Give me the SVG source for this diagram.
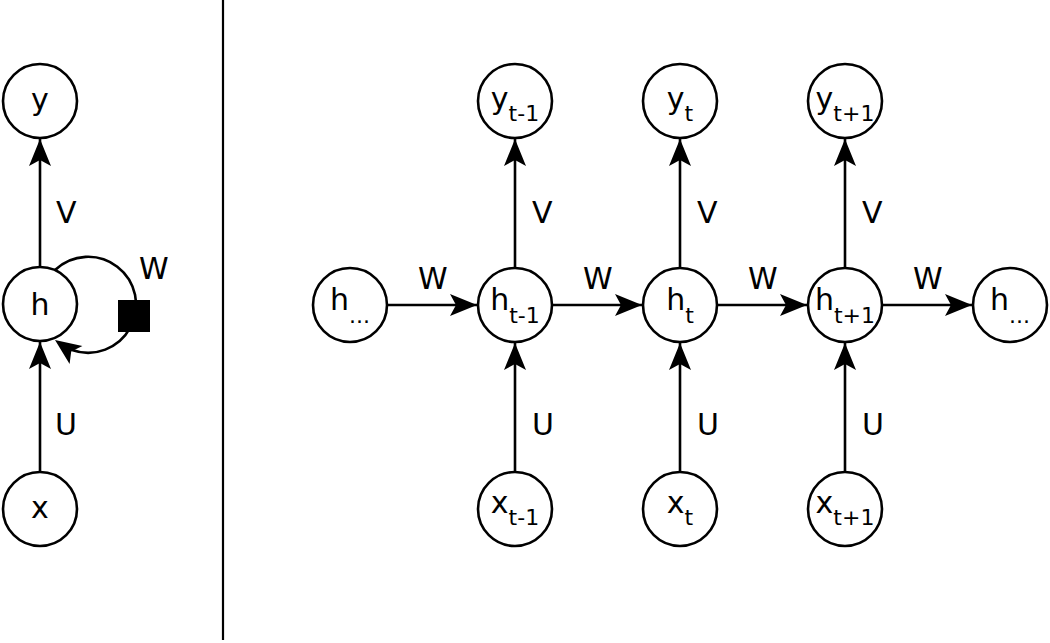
<svg xmlns="http://www.w3.org/2000/svg" width="1050" height="643" viewBox="0 0 1050 643">
<style>
.n{fill:#fff;stroke:#000;stroke-width:2.6}
.c{fill:none;stroke:#000;stroke-width:2.6}
.t{font-family:"DejaVu Sans",sans-serif;font-size:30px;fill:#000}
.m{text-anchor:middle}
.s{font-size:22px}
</style>
<defs>
<marker id="a" markerUnits="userSpaceOnUse" viewBox="-28 -12 29 24" refX="0" refY="0" markerWidth="29" markerHeight="24" orient="auto">
<path d="M0,0 L-27,-11 L-21,0 L-27,11 Z" fill="#000"/>
</marker>
</defs>
<rect width="1050" height="643" fill="#fff"/>
<line x1="223" y1="0" x2="223" y2="640" stroke="#000" stroke-width="2.2"/>
<g id="connectors">
<line class="c" x1="40" y1="268" x2="40" y2="139" marker-end="url(#a)"/>
<line class="c" x1="40" y1="472" x2="40" y2="342" marker-end="url(#a)"/>
<path class="c" d="M55,270 A48,48 0 1 1 72,350"/>
<path d="M55,340 L82.4,346 L71.2,351.6 L69.6,364 Z" fill="#000"/>
<rect x="118" y="300" width="32" height="32" fill="#000"/>
<line class="c" x1="515" y1="268" x2="515" y2="139" marker-end="url(#a)"/>
<line class="c" x1="680" y1="268" x2="680" y2="139" marker-end="url(#a)"/>
<line class="c" x1="845" y1="268" x2="845" y2="139" marker-end="url(#a)"/>
<line class="c" x1="515" y1="472" x2="515" y2="343" marker-end="url(#a)"/>
<line class="c" x1="680" y1="472" x2="680" y2="343" marker-end="url(#a)"/>
<line class="c" x1="845" y1="472" x2="845" y2="343" marker-end="url(#a)"/>
<line class="c" x1="388" y1="305" x2="477" y2="305" marker-end="url(#a)"/>
<line class="c" x1="552" y1="305" x2="642" y2="305" marker-end="url(#a)"/>
<line class="c" x1="717" y1="305" x2="807" y2="305" marker-end="url(#a)"/>
<line class="c" x1="882" y1="305" x2="972" y2="305" marker-end="url(#a)"/>
<text class="t" x="56" y="223">V</text>
<text class="t" x="55" y="435">U</text>
<text class="t" x="139" y="279">W</text>
<text class="t" x="532" y="223">V</text>
<text class="t" x="697" y="223">V</text>
<text class="t" x="862" y="223">V</text>
<text class="t" x="532" y="435">U</text>
<text class="t" x="697" y="435">U</text>
<text class="t" x="862" y="435">U</text>
<text class="t" x="418" y="289">W</text>
<text class="t" x="583" y="289">W</text>
<text class="t" x="748" y="289">W</text>
<text class="t" x="913" y="289">W</text>
</g>
<g id="y"><circle class="n" cx="40" cy="101" r="37"/><text class="t m" x="40" y="110">y</text></g>
<g id="h"><circle class="n" cx="40" cy="304" r="37"/><text class="t m" x="40" y="315">h</text></g>
<g id="x"><circle class="n" cx="40" cy="509" r="37"/><text class="t m" x="40" y="518">x</text></g>
<g id="y_t-1"><circle class="n" cx="515" cy="101" r="37"/><text class="t m" x="515" y="109">y<tspan class="s" dy="12">t-1</tspan></text></g>
<g id="y_t"><circle class="n" cx="680" cy="101" r="37"/><text class="t m" x="680" y="109">y<tspan class="s" dy="12">t</tspan></text></g>
<g id="y_t+1"><circle class="n" cx="845" cy="101" r="37"/><text class="t m" x="845" y="109">y<tspan class="s" dy="12">t+1</tspan></text></g>
<g id="h_prev"><circle class="n" cx="350" cy="305" r="37"/><text class="t m" x="350" y="310">h<tspan class="s" dy="13">...</tspan></text></g>
<g id="h_t-1"><circle class="n" cx="515" cy="305" r="37"/><text class="t m" x="515" y="310">h<tspan class="s" dy="13">t-1</tspan></text></g>
<g id="h_t"><circle class="n" cx="680" cy="305" r="37"/><text class="t m" x="680" y="310">h<tspan class="s" dy="13">t</tspan></text></g>
<g id="h_t+1"><circle class="n" cx="845" cy="305" r="37"/><text class="t m" x="845" y="310">h<tspan class="s" dy="13">t+1</tspan></text></g>
<g id="h_next"><circle class="n" cx="1010" cy="305" r="37"/><text class="t m" x="1010" y="310">h<tspan class="s" dy="13">...</tspan></text></g>
<g id="x_t-1"><circle class="n" cx="515" cy="509" r="37"/><text class="t m" x="515" y="513">x<tspan class="s" dy="12">t-1</tspan></text></g>
<g id="x_t"><circle class="n" cx="680" cy="509" r="37"/><text class="t m" x="680" y="513">x<tspan class="s" dy="12">t</tspan></text></g>
<g id="x_t+1"><circle class="n" cx="845" cy="509" r="37"/><text class="t m" x="845" y="513">x<tspan class="s" dy="12">t+1</tspan></text></g>
</svg>
